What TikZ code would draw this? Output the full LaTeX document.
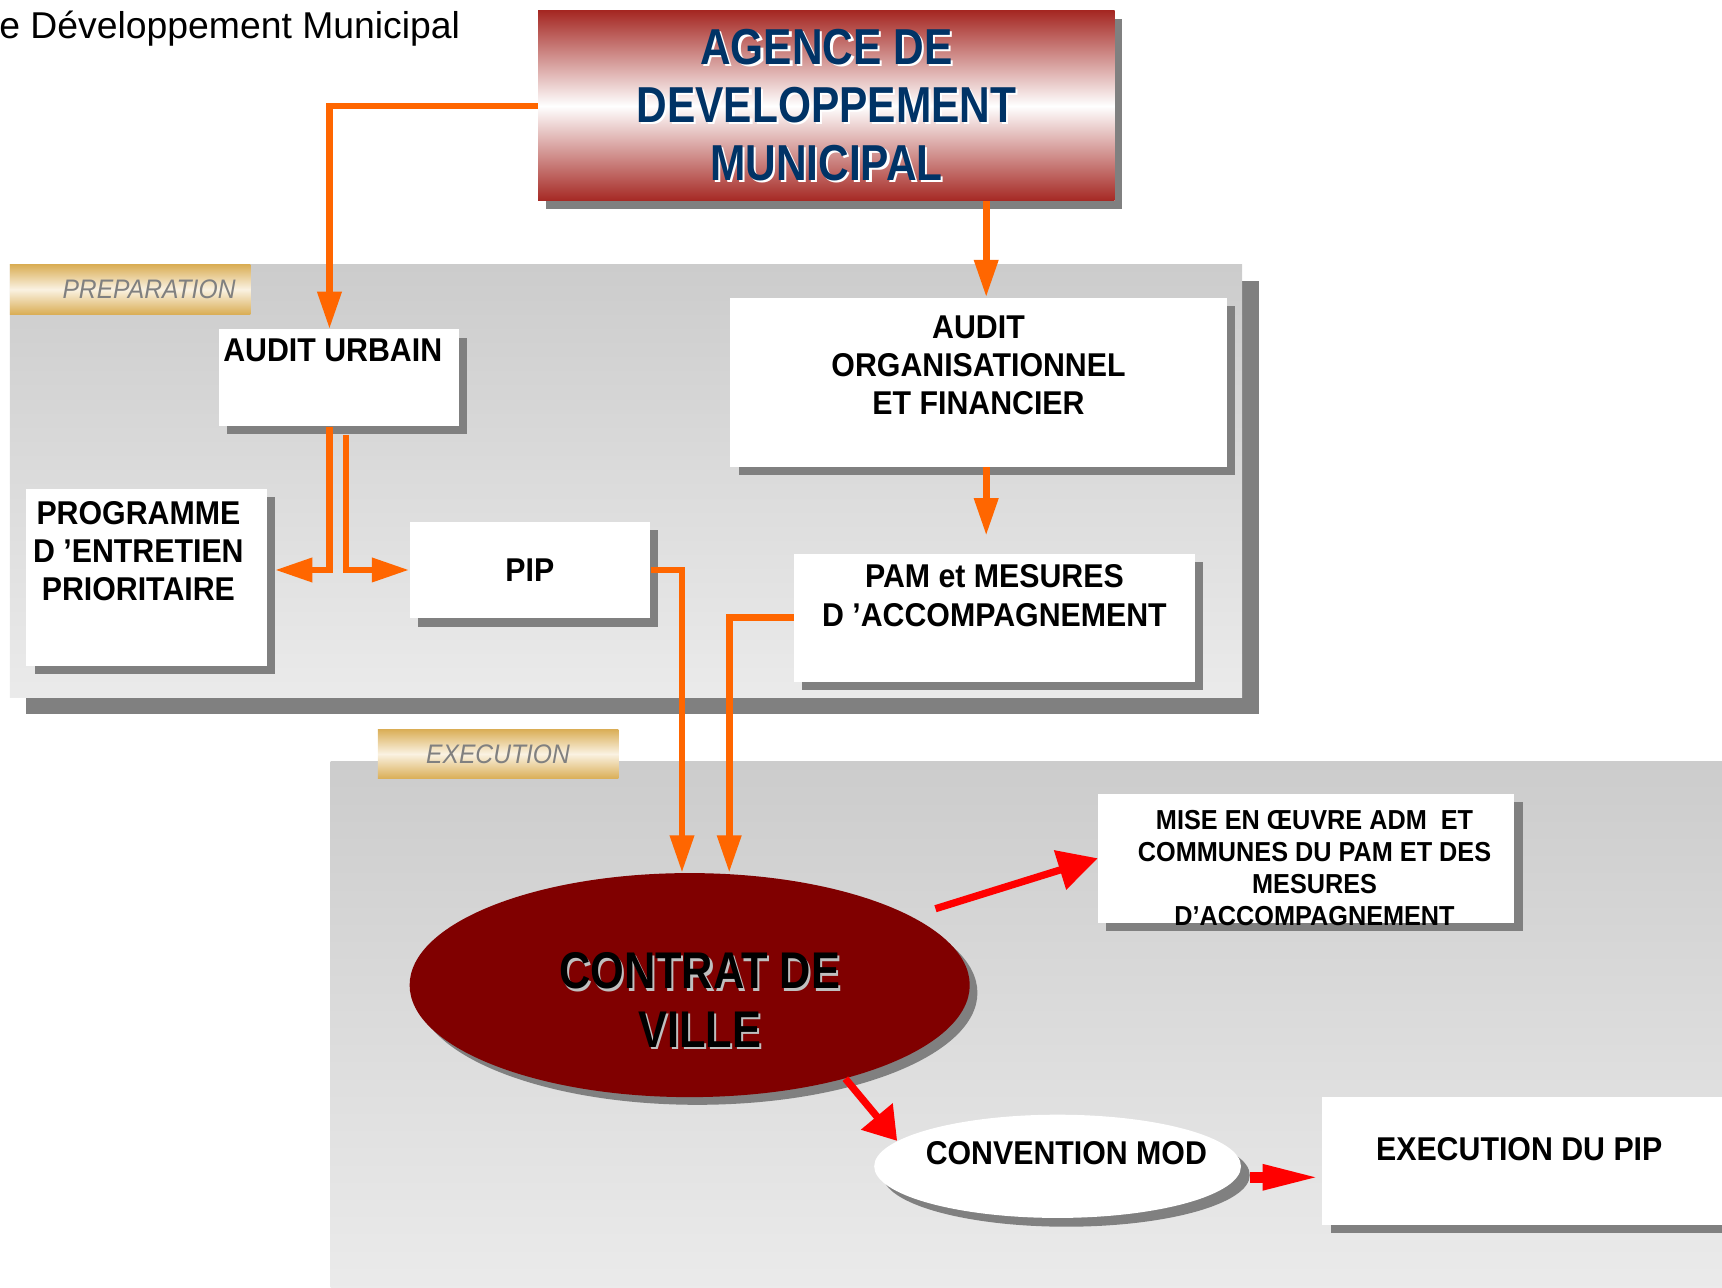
\documentclass[tikz,border=0pt]{standalone}
\usepackage{fontspec}
\setmainfont{Liberation Sans}
\newfontfamily\boxfont[FakeStretch=0.92]{Liberation Sans}
\newfontfamily\titlefont[FakeStretch=0.84]{Liberation Sans}
\usepackage{tikz}
\usetikzlibrary{arrows.meta,positioning,shapes.geometric,shadows}

\definecolor{orng}{RGB}{255,102,0}
\definecolor{agred}{RGB}{165,40,35}
\definecolor{agblue}{RGB}{0,51,102}
\definecolor{tagGold}{RGB}{218,174,86}
\definecolor{tagCream}{RGB}{250,242,226}
\definecolor{shgray}{RGB}{128,128,128}
\definecolor{wine}{RGB}{128,0,0}
\newcommand{\shtxt}[2]{\rlap{\kern1pt\raisebox{-1pt}{\color{#1}#2}}#2}

\begin{document}
\begin{tikzpicture}[x=0.5pt,y=-0.5pt,
		shadowed/.style={drop shadow={shadow xshift=#1,shadow yshift=-#1,fill=shgray,opacity=1}},
		main box/.style={rectangle,fill=white,inner sep=0pt,shadowed=#1},
		main box/.default=3.75pt,
		box text/.style={inner sep=0pt,align=center,font=\boxfont\bfseries\fontsize{15pt}{17.5pt}\selectfont},
		phase tag/.style={rectangle,inner sep=0pt,minimum width=109.5pt,minimum height=22.5pt,
			top color=tagGold,bottom color=tagGold,middle color=tagCream,text=shgray,
			font=\boxfont\itshape\fontsize{12.2pt}{14pt}\selectfont},
		phase panel/.style={top color=black!20,bottom color=black!8},
		orange arrow/.style={color=orng,line width=3pt,-{Triangle[length=17pt,width=10.5pt]}},
		red arrow/.style={color=red,line width=3.3pt,-{Triangle[length=#1,width=18pt]}}]
		\useasboundingbox (0,0) rectangle (1568,1172);
		\clip (0,0) rectangle (1568,1172);
		\node[anchor=base west,inner sep=0pt,font=\fontsize{17pt}{19pt}\selectfont] (head) at (-1,35) {e Développement Municipal};

		\path[phase panel,shadowed=7.5pt] (9,241) rectangle (1131,635);
		\path[phase panel] (301,693) rectangle (1568,1172);
		\node[phase tag,text width=96pt,align=right] (prep) at (118.5,263.5) {PREPARATION};
		\node[phase tag] (exec) at (453.5,686.5) {EXECUTION};

		\node[main box=3.5pt,minimum width=262.5pt,minimum height=86.5pt,top color=agred,bottom color=agred,middle color=white,
			align=center,text=agblue,font=\titlefont\bfseries\fontsize{23pt}{26.5pt}\selectfont] (ag) at (752.5,96.5)
			{\shtxt{white}{AGENCE DE}\\\shtxt{white}{DEVELOPPEMENT}\\\shtxt{white}{MUNICIPAL}};

		\node[main box,minimum width=109.5pt,minimum height=44pt] (urb) at (308.5,344) {};
		\node[box text,below=4.1pt of urb.north,xshift=-2.75pt] (urb-t) {AUDIT URBAIN};
		\node[main box,minimum width=109.5pt,minimum height=80.5pt] (prog) at (133.5,525.5) {};
		\node[box text,below=5.6pt of prog.north,xshift=-3.75pt] (prog-t) {PROGRAMME\\D ’ENTRETIEN\\PRIORITAIRE};
		\node[main box,box text,minimum width=109.5pt,minimum height=44pt] (pip) at (482.5,519) {PIP};
		\node[main box,minimum width=226pt,minimum height=77pt] (org) at (891,348) {};
		\node[box text,below=8.1pt of org.north] (org-t) {AUDIT\\ORGANISATIONNEL\\ET FINANCIER};
		\node[main box,minimum width=182.5pt,minimum height=58.5pt] (pam) at (905.5,562.5) {};
		\node[box text,below=5.1pt of pam.north] (pam-t) {PAM et MESURES\\D ’ACCOMPAGNEMENT};
		\node[main box,minimum width=189.5pt,minimum height=58.5pt] (mise) at (1189.5,781.5) {};
		\node[box text,below=7.5pt of mise.north,xshift=3.75pt,font=\boxfont\bfseries\fontsize{12.5pt}{14.5pt}\selectfont] (mise-t)
			{MISE EN ŒUVRE ADM\ \ ET\\COMMUNES DU PAM ET DES\\MESURES\\D’ACCOMPAGNEMENT};
		\node[main box,minimum width=208pt,minimum height=58pt] (exe) at (1412,1057) {};
		\node[box text,below right=18.6pt and 24.5pt of exe.north west] (exe-t) {EXECUTION DU PIP};

		\node[ellipse,fill=wine,inner sep=0pt,minimum width=255pt,minimum height=102pt,shadowed=3.5pt] (ville) at (628,897) {};
		\node[box text,font=\titlefont\bfseries\fontsize{23.5pt}{26.5pt}\selectfont] (ville-t) at ([shift={(9,14.5)}]ville.center)
			{\shtxt{black!25}{CONTRAT DE}\\\shtxt{black!25}{VILLE}};
		\node[ellipse,fill=white,inner sep=0pt,minimum width=167pt,minimum height=47pt,shadowed=4pt] (conv) at (963,1062) {};
		\node[box text] (conv-t) at ([shift={(8,-12)}]conv.center) {CONVENTION MOD};

		\coordinate (xu) at (300,0);
		\coordinate (xv) at (315,0);
		\coordinate (xa) at (898,0);
		\coordinate (xp) at (621,0);
		\coordinate (xm) at (664,0);
		\coordinate (cm) at ([yshift=-5pt]conv.east);
		\draw[orange arrow] (ag.west) -| (xu |- urb.north);
		\draw[orange arrow] (xa |- ag.south) -- (xa |- org.north);
		\draw[orange arrow,shorten >=8pt] (xa |- org.south) -- (xa |- pam.north);
		\draw[orange arrow,shorten >=3.5pt] (xu |- urb.south) |- (prog.east |- pip.west);
		\draw[orange arrow,shorten <=3.75pt] (xv |- urb.south) |- (pip.west);
		\draw[orange arrow] (pip.east) -| (xp |- ville.north);
		\draw[orange arrow] (pam.west) -| (xm |- ville.north);
		\draw[red arrow=18pt,shorten <=11.5pt] (ville) -- (mise.west);
		\draw[red arrow=14.5pt] (ville.-31) -- (conv.171);
		\draw[color=red,line width=5pt,-{Triangle[length=27pt,width=10.5pt]},shorten <=4pt] (cm) -- (cm -| exe.west);
		\end{tikzpicture}
\end{document}
